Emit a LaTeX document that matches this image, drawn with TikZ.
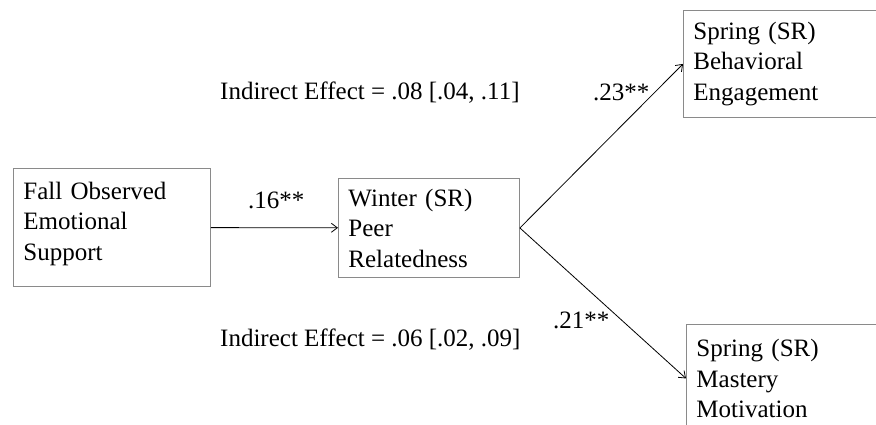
\documentclass[tikz,border=0pt]{standalone}
\usepackage{fontspec}
\setmainfont{Liberation Serif}
\usetikzlibrary{arrows.meta,positioning}
\definecolor{edge}{HTML}{8a8a8a}

\begin{document}
\begin{tikzpicture}[
  x=1pt, y=-1pt,
  varbox/.style={draw=edge, line width=0.9pt, anchor=north west, align=left, text width=#1, inner xsep=10pt, inner ysep=0pt, font=\fontsize{25}{30.5}\selectfont},
  coef/.style={anchor=base west, inner sep=0pt, font=\fontsize{25}{30}\selectfont},
  arr/.style={-{Straight Barb[length=6pt,width=9pt]}, line width=0.8pt}
]
\clip (0,0) rectangle (876,425);
\node[varbox=177pt, minimum height=118pt] (fall) at (13,168) {Fall Observed\\ Emotional\\ Support\\[-18pt]\mbox{}};
\node[varbox=161pt, minimum height=99pt] (peer) at (338,178) {Winter (SR)\\ Peer\\ Relatedness};
\node[varbox=200pt, minimum height=107pt] (beh) at (683,10) {Spring (SR)\\ Behavioral\\ Engagement};
\node[varbox=200pt, minimum height=108pt] (mast) at (686,324) {Spring (SR)\\ Mastery\\ Motivation};
\node[coef] (c16) at (248,208) {.16**};
\node[coef] (c23) at (593,101) {.23**};
\node[coef] (c21) at (553,328) {.21**};
\node[coef] (ind1) at (220,100) {Indirect Effect = .08 [.04, .11]};
\node[coef] (ind2) at (220,346) {Indirect Effect = .06 [.02, .09]};
\draw[arr] (fall) -- (peer);
\draw[arr] (peer.east) -- (beh.west);
\draw[arr] (peer.east) -- (mast.west);
\end{tikzpicture}
\end{document}
